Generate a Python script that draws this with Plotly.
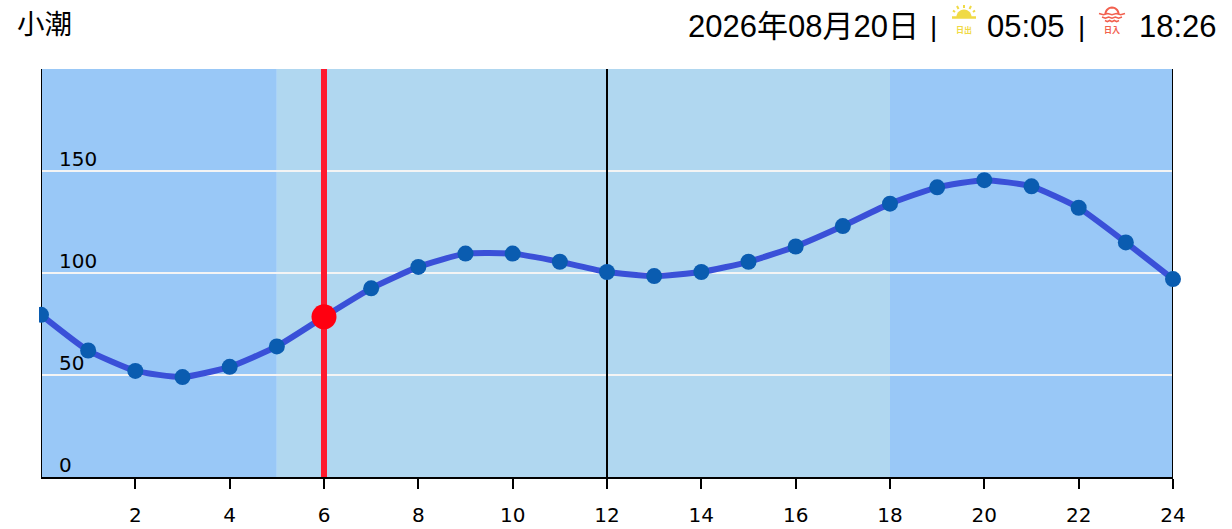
import math
import plotly.graph_objects as go

hours = list(range(25))
tide = [79.5, 62, 52, 49, 54, 64, 78.5, 92.5, 103, 109.5, 109.5, 105.5, 100.5, 98.5, 100.5, 105.5, 113, 123, 134, 142, 145.5, 142.5, 132, 115, 97]
x_ticks = list(range(2, 25, 2))
y_ticks = [0, 50, 100, 150]
grid_vals = [50, 100, 150, 200]
night_day_edges = [0, 5, 18, 24]
band_colors = ["#99c8f7", "#b0d7f0", "#99c8f7"]
now_hour = 6
now_val = 78.5
noon = 12

W, H = 1232, 529
L, R, T, B = 41, 1173, 69, 477
FONT_CJK = "Liberation Sans, Noto Sans CJK JP"
TICK = "DejaVu Sans"

def px(x): return (x - L) / (R - L)
def py(y): return 1 - (y - T) / (B - T)

fig = go.Figure()
fig.add_trace(go.Scatter(x=hours, y=tide, mode="lines+markers",
    line=dict(color="#3a50d8", width=6, shape="spline", smoothing=0.5),
    marker=dict(color="#0a5cb0", size=16), cliponaxis=False, hoverinfo="skip"))
fig.add_trace(go.Scatter(x=[now_hour], y=[now_val], mode="markers",
    marker=dict(color="#ff0010", size=25), cliponaxis=False, hoverinfo="skip"))

shapes = []
for i, c in enumerate(band_colors):
    shapes.append(dict(type="rect", xref="x", yref="y", x0=night_day_edges[i], x1=night_day_edges[i+1],
                       y0=0, y1=200, fillcolor=c, line_width=0, layer="below"))
shapes.append(dict(type="line", xref="x", yref="y", x0=noon, x1=noon, y0=0, y1=200,
                   line=dict(color="black", width=2), layer="between"))
shapes.append(dict(type="line", xref="x", yref="y", x0=now_hour, x1=now_hour, y0=0, y1=200,
                   line=dict(color="#ff1a2e", width=6), layer="between"))
for xv in (0, 24):
    shapes.append(dict(type="line", xref="x", yref="y", x0=xv, x1=xv, y0=0, y1=200,
                       line=dict(color="black", width=2), layer="between"))
# the first marker is cut off just left of the axis
shapes.append(dict(type="rect", xref="paper", yref="paper", x0=px(28), x1=px(39), y0=py(304), y1=py(326),
                   fillcolor="white", line_width=0, layer="above"))

def path(points, close=False):
    s = "M" + " L".join(f"{px(a):.5f},{py(b):.5f}" for a, b in points)
    return s + (" Z" if close else "")

def arc(cx, cy, r, n=14):
    return [(cx + r * math.cos(math.pi * (1 - k / n)), cy - r * math.sin(math.pi * k / n)) for k in range(n + 1)]

SUN = "#f0da45"
SET = "#f2604e"
shapes.append(dict(type="path", xref="paper", yref="paper", path=path(arc(964, 17, 7.5), True), fillcolor=SUN, line_width=0))
shapes.append(dict(type="line", xref="paper", yref="paper", x0=px(952), x1=px(976), y0=py(17.5), y1=py(17.5), line=dict(color=SUN, width=2.5)))
for a, b, c, d in [(964, 5, 964, 8), (957, 6, 958.5, 9), (971, 6, 969.5, 9), (953, 10.5, 955, 12), (975, 10.5, 973, 12)]:
    shapes.append(dict(type="line", xref="paper", yref="paper", x0=px(a), x1=px(c), y0=py(b), y1=py(d), line=dict(color=SUN, width=2)))
shapes.append(dict(type="path", xref="paper", yref="paper", path=path(arc(1112, 14, 6.5)), line=dict(color=SET, width=2)))
for wy, w0, w1 in [(14, 1099, 1125), (17.5, 1102, 1122), (21, 1105, 1119)]:
    pts = [(w0 + (w1 - w0) * k / 6, wy + (0.7 if k % 2 else -0.5)) for k in range(7)]
    shapes.append(dict(type="path", xref="paper", yref="paper", path=path(pts), line=dict(color=SET, width=1.6)))

annotations = []
for v in y_ticks:
    annotations.append(dict(x=0, y=v, xref="x", yref="y", text=str(v), showarrow=False,
        xanchor="left", yanchor="bottom", xshift=16, yshift=-2, font=dict(family=TICK, size=20, color="black")))

def label(x, y, text, size, color="black", anchor="left", family=FONT_CJK):
    annotations.append(dict(x=px(x), y=py(y), xref="paper", yref="paper", text=text, showarrow=False,
        xanchor=anchor, yanchor="middle", font=dict(family=family, size=size, color=color),
        borderpad=0, borderwidth=0))

label(17, 25, "小潮", 27.5)
label(688, 27, "2026年08月20日", 31)
label(930, 27, "|", 28)
label(987, 27, "05:05", 31)
label(1078, 27, "|", 28)
label(1139, 27, "18:26", 31)
label(964, 29.5, "<b>日出</b>", 8, SUN, "center", "Noto Sans CJK JP")
label(1112, 29.5, "<b>日入</b>", 8, SET, "center", "Noto Sans CJK JP")

fig.update_layout(
    width=W, height=H, showlegend=False, paper_bgcolor="white", plot_bgcolor="white",
    margin=dict(l=L, r=W - R, t=T, b=H - B, pad=0),
    shapes=shapes, annotations=annotations,
    xaxis=dict(range=[0, 24], tickmode="array", tickvals=x_ticks, ticktext=[str(t) for t in x_ticks],
        ticks="outside", ticklen=10, tickwidth=2, tickcolor="black", showgrid=False, showline=True,
        linecolor="black", linewidth=2, zeroline=False, ticklabelstandoff=9, automargin=False,
        tickfont=dict(family=TICK, size=20, color="black")),
    yaxis=dict(range=[0, 200], tickmode="array", tickvals=grid_vals, showticklabels=False, ticks="",
        automargin=False, showgrid=True, gridcolor="#f4f4f4", gridwidth=2, zeroline=False, showline=False),
)
fig.write_html("out.html", config=dict(displayModeBar=False),
               post_script="document.body.style.margin='0';document.body.style.overflow='hidden';")
